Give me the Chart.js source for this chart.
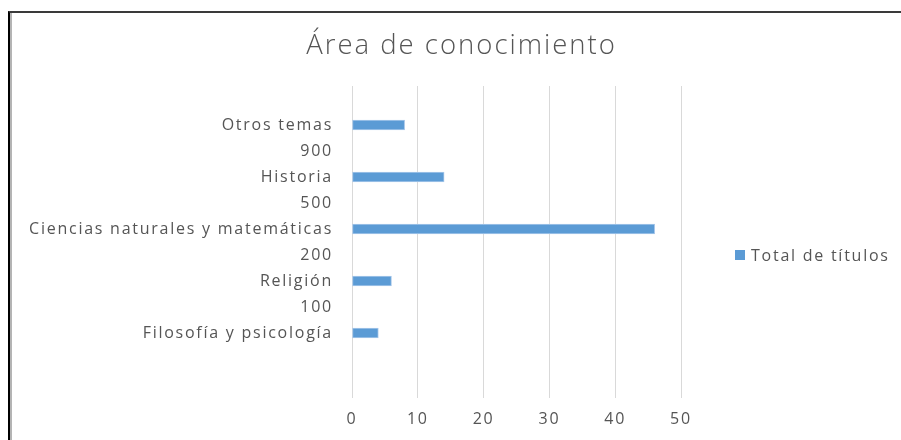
<!DOCTYPE html>
<html lang="es">
<head>
<meta charset="utf-8">
<title>Área de conocimiento</title>
<script src="https://cdn.jsdelivr.net/npm/chart.js@4"></script>
<style>
  html, body { margin: 0; padding: 0; background: #fff; }
  #wrap { position: relative; width: 901px; height: 440px; overflow: hidden; }
  #chart { position: absolute; left: 0; top: 0; }
  #frame {
    position: absolute; left: 8px; top: 11px; right: 0; bottom: -10px;
    border-left: 2px solid #000; border-top: 2px solid #3a3a3a;
    box-shadow: inset 2px 0 0 #b4b4b4;
    pointer-events: none;
  }
</style>
</head>
<body>
<div id="wrap">
  <canvas id="chart" width="901" height="440"></canvas>
  <div id="frame"></div>
</div>
<script>
// categorias (de arriba hacia abajo), las vacías dejan hueco como en la hoja
const categorias = ['', 'Otros temas', '900', 'Historia', '500', 'Ciencias naturales y matemáticas', '200', 'Religión', '100', 'Filosofía y psicología', '', ''];
const totalTitulos = [null, 8, null, 14, null, 46, null, 6, null, 4, null, null];
const ticksX = [0, 10, 20, 30, 40, 50];
const serie = 'Total de títulos';
const titulo = 'Área de conocimiento';

const gris = '#555555';
const azul = '#5B9BD5';
const fuente = "'Open Sans', sans-serif";
const espaciado = '1.75px';

// el texto del gráfico va algo espaciado; el contexto se reinicia al dimensionar el canvas
const espaciar = {
  id: 'espaciar',
  beforeUpdate(chart) { chart.ctx.letterSpacing = espaciado; },
  beforeDraw(chart) { chart.ctx.letterSpacing = espaciado; }
};

// título centrado en todo el ancho y leyenda de un solo elemento a la derecha
const cabecera = {
  id: 'cabecera',
  afterDraw(chart) {
    const ctx = chart.ctx;
    const a = chart.chartArea;
    const ds = chart.data.datasets[0];
    ctx.save();
    ctx.fillStyle = gris;
    ctx.textAlign = 'center';
    ctx.textBaseline = 'middle';
    ctx.letterSpacing = '2px';
    ctx.font = '300 27.5px ' + fuente;
    ctx.fillText(titulo, chart.width / 2 + 11, 46);

    const x = a.right + 54;
    const y = (a.top + a.bottom) / 2 + 13;
    ctx.fillStyle = ds.backgroundColor;
    ctx.fillRect(x, y - 5, 10, 10);
    ctx.fillStyle = gris;
    ctx.textAlign = 'left';
    ctx.letterSpacing = espaciado;
    ctx.font = '16px ' + fuente;
    ctx.fillText(ds.label, x + 16, y + 1);
    ctx.restore();
  }
};

new Chart(document.getElementById('chart'), {
  type: 'bar',
  data: {
    labels: categorias,
    datasets: [{
      label: serie,
      data: totalTitulos,
      backgroundColor: azul,
      borderColor: '#a9c8ea',
      borderWidth: 1,
      borderSkipped: false,
      barThickness: 10
    }]
  },
  plugins: [espaciar, cabecera],
  options: {
    indexAxis: 'y',
    responsive: false,
    animation: false,
    layout: { padding: { left: 0, right: 220, top: 86, bottom: 0 } },
    plugins: {
      legend: { display: false },
      tooltip: { enabled: false },
      title: { display: false }
    },
    scales: {
      x: {
        min: 0,
        max: 50,
        afterBuildTicks: s => { s.ticks = ticksX.map(v => ({ value: v })); },
        afterFit: s => { s.height = 42; },
        grid: { color: '#d9d9d9', drawTicks: false },
        border: { display: false },
        ticks: { color: gris, font: { family: fuente, size: 16 }, padding: 12 }
      },
      y: {
        grid: { display: false, drawTicks: false },
        border: { display: false },
        afterFit: s => { s.width = 352; },
        ticks: { color: gris, font: { family: fuente, size: 16 }, padding: 19, autoSkip: false }
      }
    }
  }
});
</script>
</body>
</html>
